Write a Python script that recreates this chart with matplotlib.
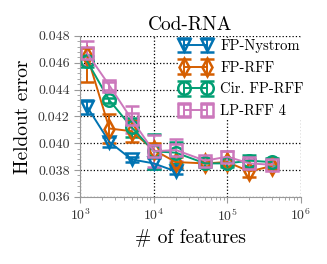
import numpy as np
import matplotlib
matplotlib.use('Agg')
import matplotlib.pyplot as plt

plt.rcParams['font.family'] = 'serif'
plt.rcParams['font.serif'] = ['cmr10', 'DejaVu Serif']
plt.rcParams['mathtext.fontset'] = 'cm'
plt.rcParams['axes.formatter.use_mathtext'] = True

# Data
features = [1250, 2500, 5000, 10000, 20000, 50000, 100000, 200000, 400000]

nys_x = features[:5]
nys_y = [0.0427, 0.0401, 0.0388, 0.0385, 0.0379]
nys_err = [0.0005, 0.0004, 0.0002, 0.0004, 0.0002]

rff_y = [0.0465, 0.0411, 0.0409, 0.0395, 0.0386, 0.0385, 0.0386, 0.0379, 0.0383]
rff_err = [[0.0019, 0.0011, 0.0008, 0.0005, 0.0004, 0.0002, 0.0003, 0.0004, 0.0002],
           [0.0006, 0.0011, 0.0008, 0.0005, 0.0004, 0.0002, 0.0003, 0.0004, 0.0002]]

cir_y = [0.0461, 0.0432, 0.0412, 0.0394, 0.0393, 0.0385, 0.0385, 0.0387, 0.0386]
cir_err = [0.0004, 0.0002, 0.0007, 0.0013, 0.0008, 0.0003, 0.0003, 0.0004, 0.0003]

lp_y = [0.0467, 0.0443, 0.0418, 0.0394, 0.0395, 0.0387, 0.0390, 0.0385, 0.0384]
lp_err = [0.0009, 0.0003, 0.0010, 0.0012, 0.0008, 0.0002, 0.0004, 0.0003, 0.0002]

series = [
    ('FP-Nystrom', nys_x, nys_y, nys_err, '#0173b2', 'v'),
    ('FP-RFF', features, rff_y, rff_err, '#d55e00', 'd'),
    ('Cir. FP-RFF', features, cir_y, cir_err, '#029e73', 'o'),
    ('LP-RFF 4', features, lp_y, lp_err, '#cc78bc', 's'),
]

fig = plt.figure(figsize=(3.27, 2.64), dpi=100)
ax = fig.add_axes([0.245, 0.254, 0.675, 0.61])

for name, x, y, err, c, m in series:
    ax.errorbar(x, y, yerr=err, color=c, marker=m, markersize=9,
                mfc='none', mew=1.8, lw=1.4, capsize=5, capthick=1.8,
                elinewidth=1.4, label=name)

ax.set_xscale('log')
ax.set_xlim(1e3, 1e6)
ax.set_ylim(0.036, 0.048)
ax.set_yticks(np.arange(0.036, 0.0481, 0.002))
ax.set_yticklabels(['%.3f' % v for v in np.arange(0.036, 0.0481, 0.002)])
ax.yaxis.set_minor_locator(matplotlib.ticker.MultipleLocator(0.0004))
ax.grid(True, which='major', ls=':', color='black', lw=0.9)
ax.set_axisbelow(True)

for s in ['top', 'right']:
    ax.spines[s].set_visible(False)
for s in ['left', 'bottom']:
    ax.spines[s].set_color('#999999')
ax.tick_params(which='both', colors='#999999', labelcolor='#333333', labelsize=10)
ax.tick_params(which='major', length=4)
ax.tick_params(which='minor', length=2)

ax.set_title('Cod-RNA', fontsize=14, pad=4)
ax.set_ylabel('Heldout error', fontsize=14)
ax.set_xlabel('# of features', fontsize=14)

leg = ax.legend(loc='upper right', numpoints=2, fontsize=10.5, frameon=True,
                framealpha=1, edgecolor='none', handlelength=2.2,
                borderaxespad=0.0, borderpad=0.1, labelspacing=0.55,
                handletextpad=0.6, bbox_to_anchor=(1.02, 0.99))

fig.savefig('out.png', dpi=100)
